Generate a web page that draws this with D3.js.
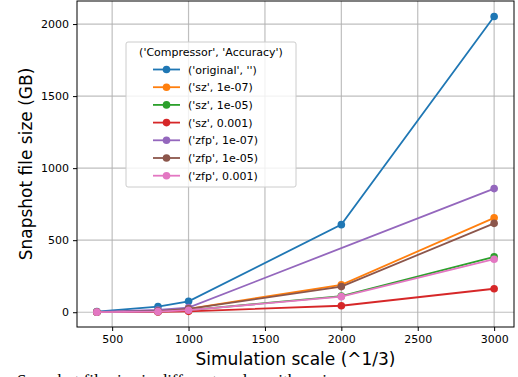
<!DOCTYPE html>
<html>
<head>
<meta charset="utf-8">
<script src="https://cdn.jsdelivr.net/npm/d3@7"></script>
<style>
  body { margin: 0; background: #fff; }
  svg { display: block; }
</style>
</head>
<body>
<div id="content"></div>
<script>
var width = 518, height = 377;

// data
var scales = [400, 800, 1000, 2000, 3000];
var seriesNames = ["('original', '')", "('sz', 1e-07)", "('sz', 1e-05)", "('sz', 0.001)",
  "('zfp', 1e-07)", "('zfp', 1e-05)", "('zfp', 0.001)"];
var original = [4.8, 39, 76, 608, 2052];
var sz7 = [1, 8, 24, 190, 655];
var sz5 = [0.5, 4, 14, 112, 385];
var sz3 = [0.2, 2, 6, 45, 163];
var zfp7 = [1.5, 16, 32, null, 858];
var zfp5 = [1, 8, 23, 178, 617];
var zfp3 = [0.5, 4, 14, 108, 368];
var colors = ['#1f77b4', '#ff7f0e', '#2ca02c', '#d62728', '#9467bd', '#8c564b', '#e377c2'];
var xTicks = [500, 1000, 1500, 2000, 2500, 3000];
var yTicks = [0, 500, 1000, 1500, 2000];

var allSeries = [original, sz7, sz5, sz3, zfp7, zfp5, zfp3];

var margin = {left: 77, right: 4, top: 1, bottom: 50};
var x = d3.scaleLinear().domain([270, 3130]).range([margin.left, width - margin.right]);
var y = d3.scaleLinear().domain([-102.5, 2160]).range([height - margin.bottom, margin.top]);

var svg = d3.select('div#content').append('svg')
  .attr('width', width)
  .attr('height', height);

// grid
svg.append('g').selectAll('line').data(xTicks).enter().append('line')
  .attr('x1', function(d){ return x(d); }).attr('x2', function(d){ return x(d); })
  .attr('y1', y.range()[0]).attr('y2', y.range()[1])
  .attr('stroke', '#b0b0b0').attr('stroke-width', 1.2).attr('opacity', 0.8);
svg.append('g').selectAll('line').data(yTicks).enter().append('line')
  .attr('y1', function(d){ return y(d); }).attr('y2', function(d){ return y(d); })
  .attr('x1', x.range()[0]).attr('x2', x.range()[1])
  .attr('stroke', '#b0b0b0').attr('stroke-width', 1.2).attr('opacity', 0.8);

// axes
var xAxis = svg.append('g')
  .attr('transform', 'translate(0,' + y.range()[0] + ')')
  .call(d3.axisBottom(x).tickValues(xTicks).tickSize(4).tickPadding(4).tickFormat(d3.format('d')));
var yAxis = svg.append('g')
  .attr('transform', 'translate(' + x.range()[0] + ',0)')
  .call(d3.axisLeft(y).tickValues(yTicks).tickSize(4).tickPadding(4).tickFormat(d3.format('d')));
[xAxis, yAxis].forEach(function(a){
  a.select('.domain').remove();
  a.selectAll('text').attr('font-family', 'DejaVu Sans').attr('font-size', 11).attr('fill', '#000');
  a.selectAll('line').attr('stroke', '#000');
});

// frame
svg.append('rect')
  .attr('x', x.range()[0]).attr('y', y.range()[1])
  .attr('width', x.range()[1] - x.range()[0]).attr('height', y.range()[0] - y.range()[1])
  .attr('fill', 'none').attr('stroke', '#000').attr('stroke-width', 1);

// lines and markers
var line = d3.line()
  .x(function(d){ return x(d.x); })
  .y(function(d){ return y(d.y); });

allSeries.forEach(function(vals, i){
  var pts = scales.map(function(s, j){ return {x: s, y: vals[j]}; })
    .filter(function(d){ return d.y !== null; });
  var g = svg.append('g');
  g.append('path')
    .attr('d', line(pts))
    .attr('stroke', colors[i])
    .attr('stroke-width', 1.8)
    .attr('fill', 'none');
  g.selectAll('circle').data(pts).enter().append('circle')
    .attr('cx', function(d){ return x(d.x); })
    .attr('cy', function(d){ return y(d.y); })
    .attr('r', 3.8)
    .attr('fill', colors[i]);
});

// axis labels
svg.append('text')
  .attr('x', (x.range()[0] + x.range()[1]) / 2).attr('y', 365)
  .attr('text-anchor', 'middle')
  .attr('font-family', 'DejaVu Sans').attr('font-size', 17)
  .text('Simulation scale (^1/3)');
svg.append('text')
  .attr('transform', 'translate(32,' + ((y.range()[0] + y.range()[1]) / 2) + ') rotate(-90)')
  .attr('text-anchor', 'middle')
  .attr('font-family', 'DejaVu Sans').attr('font-size', 17)
  .text('Snapshot file size (GB)');

// legend
var lg = svg.append('g');
lg.append('rect')
  .attr('x', 126).attr('y', 42).attr('width', 170).attr('height', 145).attr('rx', 2)
  .attr('fill', '#fff').attr('fill-opacity', 0.8)
  .attr('stroke', '#ccc').attr('stroke-width', 1);
lg.append('text')
  .attr('x', 211).attr('y', 56)
  .attr('text-anchor', 'middle')
  .attr('font-family', 'DejaVu Sans').attr('font-size', 11)
  .text("('Compressor', 'Accuracy')");
seriesNames.forEach(function(name, i){
  var yy = 69.5 + i * 17.7;
  lg.append('line')
    .attr('x1', 153).attr('x2', 180).attr('y1', yy).attr('y2', yy)
    .attr('stroke', colors[i]).attr('stroke-width', 1.8);
  lg.append('circle')
    .attr('cx', 166.5).attr('cy', yy).attr('r', 3.8).attr('fill', colors[i]);
  lg.append('text')
    .attr('x', 188).attr('y', yy + 4)
    .attr('font-family', 'DejaVu Sans').attr('font-size', 11)
    .text(name);
});

// cut-off caption below the figure
svg.append('text')
  .attr('x', 17).attr('y', 386)
  .attr('font-family', 'Liberation Serif').attr('font-size', 17)
  .text('Snapshot file size in different scales with various compressors');
</script>
</body>
</html>
